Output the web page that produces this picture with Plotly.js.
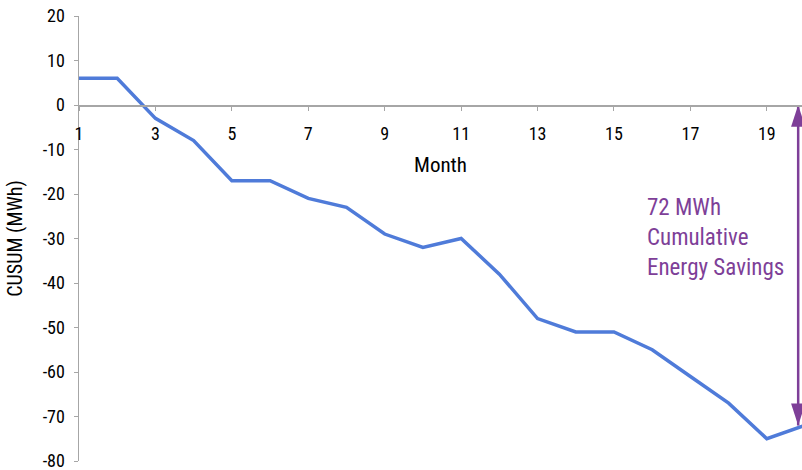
<!DOCTYPE html>
<html>
<head>
<meta charset="utf-8">
<script src="https://cdn.plot.ly/plotly-3.0.1.min.js"></script>
<style>
  html, body { margin: 0; padding: 0; background: #ffffff; }
  #chart { width: 802px; height: 470px; }
</style>
</head>
<body>
<div id="chart"></div>
<script>
// Data
const months = [1, 2, 3, 4, 5, 6, 7, 8, 9, 10, 11, 12, 13, 14, 15, 16, 17, 18, 19, 20];
const cusum  = [6, 6, -3, -8, -17, -17, -21, -23, -29, -32, -30, -38, -48, -51, -51, -55, -61, -67, -75, -72];
const xTickVals = [1, 3, 5, 7, 9, 11, 13, 15, 17, 19];
const yTickVals = [20, 10, 0, -10, -20, -30, -40, -50, -60, -70, -80];
const savingsLabel = ['72 MWh', 'Cumulative', 'Energy Savings'];
const savingsTop = 0;
const savingsValue = -72;
const arrowMonth = 19.82;

const FONT = '"Liberation Sans Narrow", "Arial Narrow", "Roboto Condensed", "Liberation Sans", sans-serif';
const AXIS_GREY = '#a6a6a6';
const PURPLE = '#7e3f98';

const cusumTrace = {
  x: months,
  y: cusum,
  type: 'scatter',
  mode: 'lines',
  line: { color: '#4f7bd9', width: 3.5 },
  hoverinfo: 'skip'
};

// double-headed savings arrow: a line between the two levels with arrow markers at each end
const arrowTrace = {
  x: [arrowMonth, arrowMonth],
  y: [savingsTop, savingsValue],
  type: 'scatter',
  mode: 'lines+markers',
  line: { color: PURPLE, width: 2.5 },
  marker: { symbol: 'arrow', size: 23, angle: [0, 180], color: PURPLE, line: { width: 0 } },
  cliponaxis: false,
  hoverinfo: 'skip'
};

const layout = {
  width: 802,
  height: 470,
  margin: { l: 79, r: 0, t: 16, b: 9, pad: 0 },
  paper_bgcolor: '#ffffff',
  plot_bgcolor: '#ffffff',
  showlegend: false,
  font: { family: FONT, color: '#000000', size: 18 },
  xaxis: {
    range: [1, 19.92],
    anchor: 'free',
    position: 0.8,
    tickvals: xTickVals,
    ticktext: xTickVals.map(String),
    ticks: 'outside',
    ticklen: 4,
    tickwidth: 1,
    tickcolor: AXIS_GREY,
    ticklabelstandoff: 8,
    showline: true,
    linecolor: AXIS_GREY,
    linewidth: 1.5,
    showgrid: false,
    zeroline: false,
    tickfont: { family: FONT, size: 18, color: '#000000' },
    title: { text: 'Month', font: { family: FONT, size: 21, color: '#000000' }, standoff: 14 }
  },
  yaxis: {
    range: [-80, 20],
    tickvals: yTickVals,
    ticktext: yTickVals.map(String),
    ticks: 'outside',
    ticklen: 4,
    tickwidth: 1,
    tickcolor: AXIS_GREY,
    ticklabelstandoff: 5,
    ticklabeloverflow: 'allow',
    showline: true,
    linecolor: AXIS_GREY,
    linewidth: 1.5,
    showgrid: false,
    zeroline: false,
    tickfont: { family: FONT, size: 18, color: '#000000' },
    title: { text: 'CUSUM (MWh)', font: { family: FONT, size: 20, color: '#000000' }, standoff: 14 }
  },
  annotations: [
    {
      x: 0, y: 0, xref: 'paper', yref: 'paper',
      text: savingsLabel.join('<br>'),
      showarrow: false,
      align: 'left',
      xanchor: 'left',
      yanchor: 'middle',
      font: { family: FONT, size: 23, color: PURPLE }
    }
  ]
};
// place the text block in paper coords (converted from pixels)
const plotW = 802 - 79, plotH = 470 - 16 - 9;
layout.annotations[0].x = (645 - 79) / plotW;
layout.annotations[0].y = (470 - 9 - 238) / plotH;

Plotly.newPlot('chart', [cusumTrace, arrowTrace], layout, { displayModeBar: false, staticPlot: true });
</script>
</body>
</html>
